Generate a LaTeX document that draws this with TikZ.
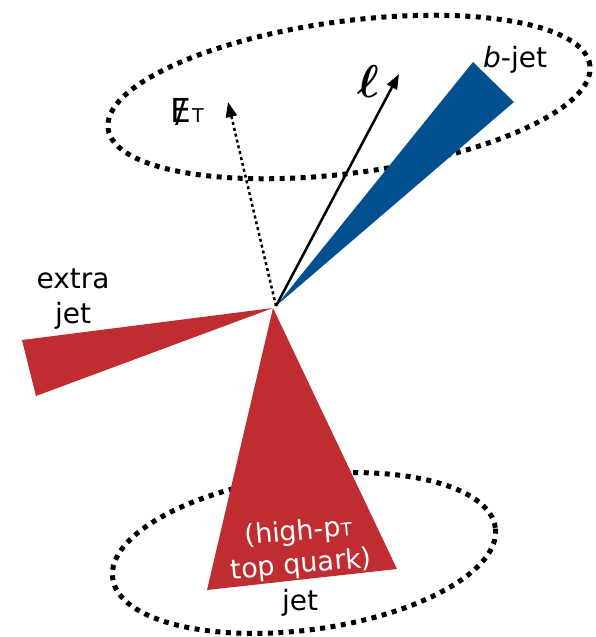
\RequirePackage{fix-cm}
\documentclass[tikz,border=0pt]{standalone}
\usepackage{fontspec}
\setmainfont{DejaVu Sans}
\usepackage{amsmath}
\usetikzlibrary{arrows.meta}
\definecolor{topred}{HTML}{BF2D30}
\definecolor{bblue}{HTML}{02508F}

\begin{document}
\begin{tikzpicture}[x=1pt,y=-1pt,
  font=\fontsize{28}{35}\selectfont,
  dotring/.style={line width=5pt,dash pattern=on 5pt off 5.5pt},
  tip/.style={-{Triangle[length=15pt,width=11pt]}}]
  \useasboundingbox (0,0) rectangle (595,637);
  \coordinate (vtx) at (276,306);
  % rings
  \draw[dotring,rotate around={7.5:(349,97)}] (349,97) ellipse [x radius=243pt,y radius=76pt];
  \draw[dotring,rotate around={7.5:(304,553)}] (304,553) ellipse [x radius=193pt,y radius=77pt];
  % extra jet (red)
  \fill[topred] (273,308) -- (22,340) -- (36,396) -- cycle;
  % top quark jet (red)
  \fill[topred] (273,308) -- (207,590) -- (397,569) -- cycle;
  % b-jet (blue)
  \fill[bblue] (vtx) -- (473,62) -- (514,102) -- cycle;
  % MET and lepton
  \coordinate (mettip) at (228,102);
  \coordinate (leptip) at (399,74);
  \draw[tip,line width=2.5pt,dash pattern=on 3pt off 3pt] (vtx) -- (mettip);
  \draw[tip,line width=2.5pt] (vtx) -- (leptip);
  % labels
  \node[anchor=base west,inner sep=0pt] (met) at (170,122)
    {{\fontsize{33}{33}\selectfont\ooalign{\hfil/\hfil\cr E}}\kern1pt{\fontsize{19}{19}\selectfont T}};
  \node (lep) at (368,82) {\fontsize{46}{46}\selectfont$\boldsymbol{\ell}$};
  \node[anchor=base west,inner sep=0pt] (blab) at (483,67) {\textit{b}-jet};
  \node[align=center] (xlab) at (73,299) {extra\\jet};
  \node[text=white,align=center,rotate=5,inner sep=0pt,font=\fontsize{27}{33}\selectfont] (toplab) at (300,549)
    {(high-p{\fontsize{18}{18}\selectfont T}\\top quark)};
  \node[anchor=base,inner sep=0pt] (jlab) at (300,610) {jet};
\end{tikzpicture}
\end{document}
